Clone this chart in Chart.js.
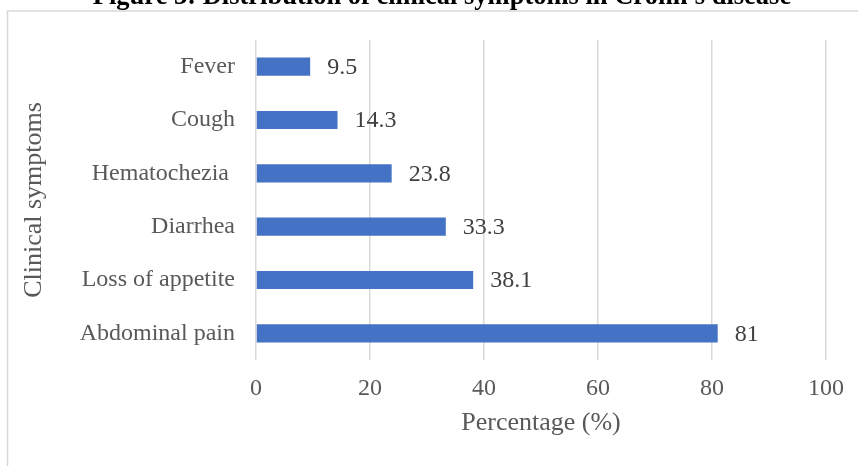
<!DOCTYPE html>
<html>
<head>
<meta charset="utf-8">
<title>Clinical symptoms in Crohn's disease</title>
<script src="https://cdn.jsdelivr.net/npm/chart.js@4.4.0/dist/chart.umd.min.js"></script>
<style>
  html, body { margin: 0; padding: 0; background: #fff; overflow: hidden; }
  #wrap { position: relative; width: 858px; height: 466px; }
</style>
</head>
<body>
<div id="wrap"><canvas id="chart" width="858" height="466"></canvas></div>
<script>
// symptom names, top to bottom
const symptoms = ['Fever', 'Cough', 'Hematochezia ', 'Diarrhea', 'Loss of appetite', 'Abdominal pain'];
// percentage of patients with each symptom
const percentages = [9.5, 14.3, 23.8, 33.3, 38.1, 81];
// x axis ticks
const xTicks = [0, 20, 40, 60, 80, 100];

const FONT = "'Liberation Serif', 'Times New Roman', serif";
const figureTitle = "Figure 3: Distribution of clinical symptoms in Crohn's disease";

// outer frame and heading above it
const framePlugin = {
    id: 'frame',
    beforeDraw(chart) {
        const ctx = chart.ctx;
        ctx.save();
        ctx.fillStyle = '#fff';
        ctx.fillRect(0, 0, chart.width, chart.height);
        ctx.strokeStyle = '#d9d9d9';
        ctx.lineWidth = 1.5;
        ctx.strokeRect(7.5, 11, chart.width + 20, chart.height + 20);
        ctx.fillStyle = '#000';
        ctx.font = 'bold 26.5px ' + FONT;
        ctx.textAlign = 'center';
        ctx.textBaseline = 'alphabetic';
        ctx.fillText(figureTitle, 442, 4);
        ctx.restore();
    }
};

// value written after the end of each bar
const valueLabels = {
    id: 'valueLabels',
    afterDatasetsDraw(chart) {
        const ctx = chart.ctx;
        const meta = chart.getDatasetMeta(0);
        ctx.save();
        ctx.font = '24px ' + FONT;
        ctx.fillStyle = '#404040';
        ctx.textAlign = 'left';
        ctx.textBaseline = 'middle';
        meta.data.forEach((bar, i) => {
            ctx.fillText(String(percentages[i]), bar.x + 17, bar.y + 1);
        });
        ctx.restore();
    }
};

new Chart(document.getElementById('chart'), {
    type: 'bar',
    data: {
        labels: symptoms,
        datasets: [{
            data: percentages,
            backgroundColor: '#4472C4',
            borderWidth: 0,
            barPercentage: 0.34,
            categoryPercentage: 1
        }]
    },
    options: {
        indexAxis: 'y',
        responsive: false,
        animation: false,
        layout: { padding: { left: 0, top: 40, right: 32, bottom: 0 } },
        plugins: {
            legend: { display: false },
            tooltip: { enabled: false }
        },
        scales: {
            x: {
                min: 0,
                max: 100,
                afterBuildTicks(axis) {
                    axis.ticks = xTicks.map(v => ({ value: v }));
                },
                afterFit(axis) { axis.height = 106; },
                grid: { color: '#d9d9d9', lineWidth: 1.5, drawTicks: false },
                border: { display: false },
                ticks: {
                    padding: 14,
                    color: '#595959',
                    font: { family: FONT, size: 24 }
                },
                title: {
                    display: true,
                    text: 'Percentage (%)',
                    color: '#595959',
                    font: { family: FONT, size: 26 },
                    padding: { top: 0, bottom: 27 }
                }
            },
            y: {
                afterFit(axis) { axis.width = 256; },
                grid: { display: false, drawTicks: false },
                border: { display: false },
                ticks: {
                    padding: 21,
                    color: '#595959',
                    font: { family: FONT, size: 24 }
                },
                title: {
                    display: true,
                    text: 'Clinical symptoms',
                    color: '#595959',
                    font: { family: FONT, size: 26 },
                    padding: { top: 19, bottom: 0 }
                }
            }
        }
    },
    plugins: [framePlugin, valueLabels]
});
</script>
</body>
</html>
